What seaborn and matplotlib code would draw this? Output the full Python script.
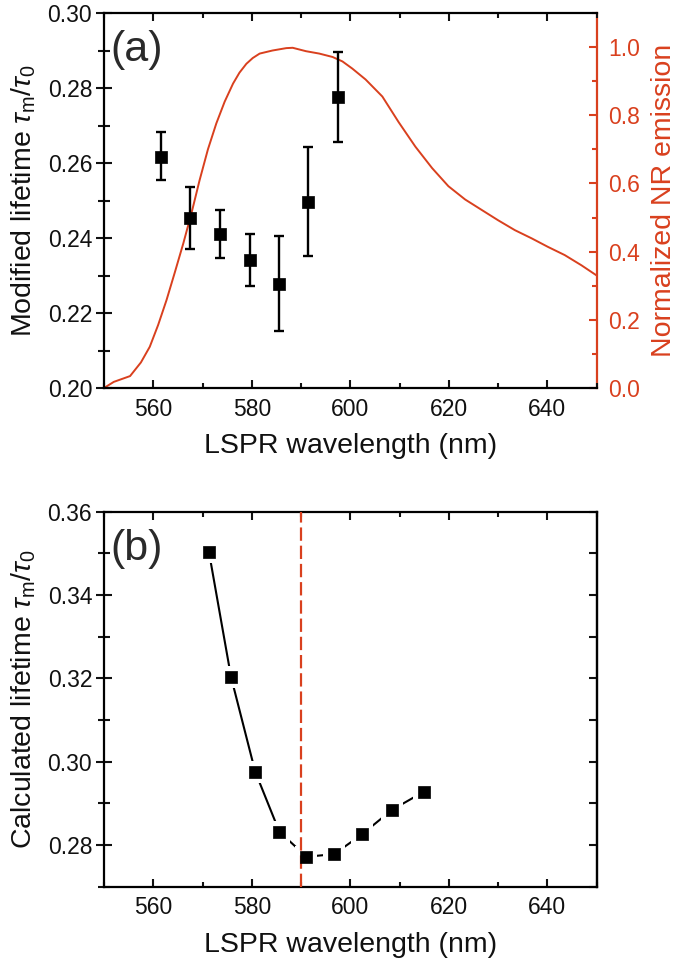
import numpy as np
import pandas as pd
import matplotlib
matplotlib.use("Agg")
import matplotlib.pyplot as plt
import seaborn as sns
from matplotlib.ticker import MultipleLocator, FormatStrFormatter

# ---------------- data ----------------
# Panel (a): measured modified lifetime with error bars
meas_wl = [561.6, 567.4, 573.6, 579.6, 585.5, 591.5, 597.5]
meas_tau = [0.2617, 0.2454, 0.2410, 0.2342, 0.2278, 0.2495, 0.2776]
meas_upper = [0.2682, 0.2537, 0.2474, 0.2411, 0.2405, 0.2643, 0.2895]
meas_lower = [0.2555, 0.2371, 0.2347, 0.2273, 0.2152, 0.2351, 0.2657]

# Panel (a): normalized NR emission spectrum
spec_wl = [550.0, 552.0, 555.3, 557.5, 559.3, 561.0, 562.7, 564.4, 566.1, 567.8,
           569.4, 571.1, 572.8, 574.5, 576.2, 577.5, 578.9, 580.2, 581.6, 584.2,
           587.0, 588.3, 591.0, 593.7, 596.4, 598.4, 600.4, 603.1, 606.5, 609.8,
           613.2, 616.6, 619.9, 623.3, 626.7, 630.0, 633.4, 636.8, 640.1, 643.5,
           646.9, 650.0]
spec_val = [0.000, 0.018, 0.035, 0.075, 0.121, 0.185, 0.258, 0.340, 0.424, 0.515,
            0.609, 0.700, 0.776, 0.840, 0.893, 0.925, 0.951, 0.968, 0.981, 0.990,
            0.997, 0.998, 0.988, 0.981, 0.971, 0.958, 0.937, 0.905, 0.855, 0.780,
            0.708, 0.645, 0.592, 0.553, 0.522, 0.492, 0.463, 0.439, 0.414, 0.390,
            0.360, 0.330]

# Panel (b): calculated lifetime
calc_wl = [571.3, 575.8, 580.7, 585.6, 591.1, 596.7, 602.4, 608.4, 614.9]
calc_tau = [0.3504, 0.3203, 0.2976, 0.2832, 0.2772, 0.2778, 0.2826, 0.2884, 0.2928]
resonance_wl = 590

RED = "#D9401E"
INK = "#111111"

# ---------------- style ----------------
sns.set_style("ticks")
plt.rcParams["font.family"] = ["Liberation Sans", "DejaVu Sans"]
plt.rcParams["mathtext.fontset"] = "custom"
plt.rcParams["mathtext.rm"] = "Liberation Sans"
plt.rcParams["mathtext.it"] = "Liberation Sans:italic"
plt.rcParams["mathtext.sf"] = "Liberation Sans"
plt.rcParams["text.color"] = INK
plt.rcParams["axes.labelcolor"] = INK
plt.rcParams["xtick.color"] = INK
plt.rcParams["ytick.color"] = INK

TICK_FS = 16.5
LABEL_FS = 20.5
LETTER_FS = 31

fig = plt.figure(figsize=(6.75, 9.71), dpi=100)
ax1 = fig.add_axes([0.154, 0.6004, 0.730, 0.3862])
ax2 = fig.add_axes([0.154, 0.0868, 0.730, 0.3862])


def style_x(ax):
    ax.set_xlim(550, 650)
    ax.xaxis.set_major_locator(MultipleLocator(20))
    ax.xaxis.set_minor_locator(MultipleLocator(10))
    ax.tick_params(axis="x", which="both", direction="in", top=True, bottom=True,
                   labelsize=TICK_FS, width=1.5, pad=7)
    ax.tick_params(axis="x", which="major", length=6)
    ax.tick_params(axis="x", which="minor", length=3.5)
    ax.set_xlabel("LSPR wavelength (nm)", fontsize=LABEL_FS, labelpad=9)
    for sp in ax.spines.values():
        sp.set_linewidth(1.6)
        sp.set_color("black")


def style_left(ax):
    ax.yaxis.set_major_formatter(FormatStrFormatter("%.2f"))
    ax.tick_params(axis="y", which="both", direction="inout", left=True, right=False,
                   labelsize=TICK_FS, width=1.5, pad=3)
    ax.tick_params(axis="y", which="major", length=11)
    ax.tick_params(axis="y", which="minor", length=8)


# ---------------- panel (a) ----------------
ax1r = ax1.twinx()
df_spec = pd.DataFrame({"wl": spec_wl, "val": spec_val})
sns.lineplot(data=df_spec, x="wl", y="val", color=RED, lw=1.4, ax=ax1r)
ax1r.set_ylim(0, 1.1)
ax1r.yaxis.set_major_locator(MultipleLocator(0.2))
ax1r.yaxis.set_minor_locator(MultipleLocator(0.1))
ax1r.yaxis.set_major_formatter(FormatStrFormatter("%.1f"))
ax1r.tick_params(axis="y", which="both", direction="in", colors=RED,
                 labelsize=TICK_FS, width=1.5, pad=8)
ax1r.tick_params(axis="y", which="major", length=6)
ax1r.tick_params(axis="y", which="minor", length=3.5)
ax1r.set_ylabel("Normalized NR emission", fontsize=LABEL_FS, color=RED, labelpad=8)
for name, sp in ax1r.spines.items():
    sp.set_visible(name == "right")
ax1r.spines["right"].set_color(RED)
ax1r.spines["right"].set_linewidth(1.6)
ax1r.set_xlabel("")

ax1.set_zorder(ax1r.get_zorder() + 1)
ax1.patch.set_visible(False)

tau = np.array(meas_tau)
yerr = [tau - np.array(meas_lower), np.array(meas_upper) - tau]
ax1.errorbar(meas_wl, meas_tau, yerr=yerr, fmt="none", ecolor="black",
             elinewidth=1.7, capsize=3.5, capthick=1.7, zorder=3)
df_meas = pd.DataFrame({"wl": meas_wl, "tau": meas_tau})
sns.scatterplot(data=df_meas, x="wl", y="tau", marker="s", s=64, color="black",
                edgecolor="black", linewidth=0.5, ax=ax1, zorder=4)
ax1.set_ylim(0.20, 0.30)
ax1.yaxis.set_major_locator(MultipleLocator(0.02))
ax1.yaxis.set_minor_locator(MultipleLocator(0.01))
style_left(ax1)
ax1.spines["right"].set_visible(False)
style_x(ax1)
ax1.set_ylabel(r"Modified lifetime $\tau_{\rm m}/\tau_0$", fontsize=LABEL_FS, labelpad=7)
ax1.text(0.014, 0.955, "(a)", transform=ax1.transAxes, ha="left", va="top",
         fontsize=LETTER_FS, color="#2a2a2a")

# ---------------- panel (b) ----------------
df_calc = pd.DataFrame({"wl": calc_wl, "tau": calc_tau})
sns.lineplot(data=df_calc, x="wl", y="tau", color="black", lw=1.5, ax=ax2, zorder=2)
sns.scatterplot(data=df_calc, x="wl", y="tau", marker="s", s=250, color="white",
                edgecolor="white", linewidth=0, ax=ax2, zorder=3)
ax2.axvline(resonance_wl, color=RED, lw=1.6, ls=(0, (6, 2.2)), zorder=3.5)
sns.scatterplot(data=df_calc, x="wl", y="tau", marker="s", s=64, color="black",
                edgecolor="black", linewidth=0.5, ax=ax2, zorder=4)
ax2.set_ylim(0.27, 0.36)
ax2.yaxis.set_major_locator(MultipleLocator(0.02))
ax2.yaxis.set_minor_locator(MultipleLocator(0.01))
style_left(ax2)
ax2r = ax2.secondary_yaxis("right")
ax2r.yaxis.set_major_locator(MultipleLocator(0.02))
ax2r.yaxis.set_minor_locator(MultipleLocator(0.01))
ax2r.tick_params(axis="y", which="both", direction="in", labelright=False, width=1.5)
ax2r.tick_params(axis="y", which="major", length=6)
ax2r.tick_params(axis="y", which="minor", length=6)
ax2r.spines["right"].set_linewidth(1.6)
style_x(ax2)
ax2.set_ylabel(r"Calculated lifetime $\tau_{\rm m}/\tau_0$", fontsize=LABEL_FS, labelpad=7)
ax2.text(0.014, 0.955, "(b)", transform=ax2.transAxes, ha="left", va="top",
         fontsize=LETTER_FS, color="#2a2a2a")

fig.savefig("out.png", dpi=100)
